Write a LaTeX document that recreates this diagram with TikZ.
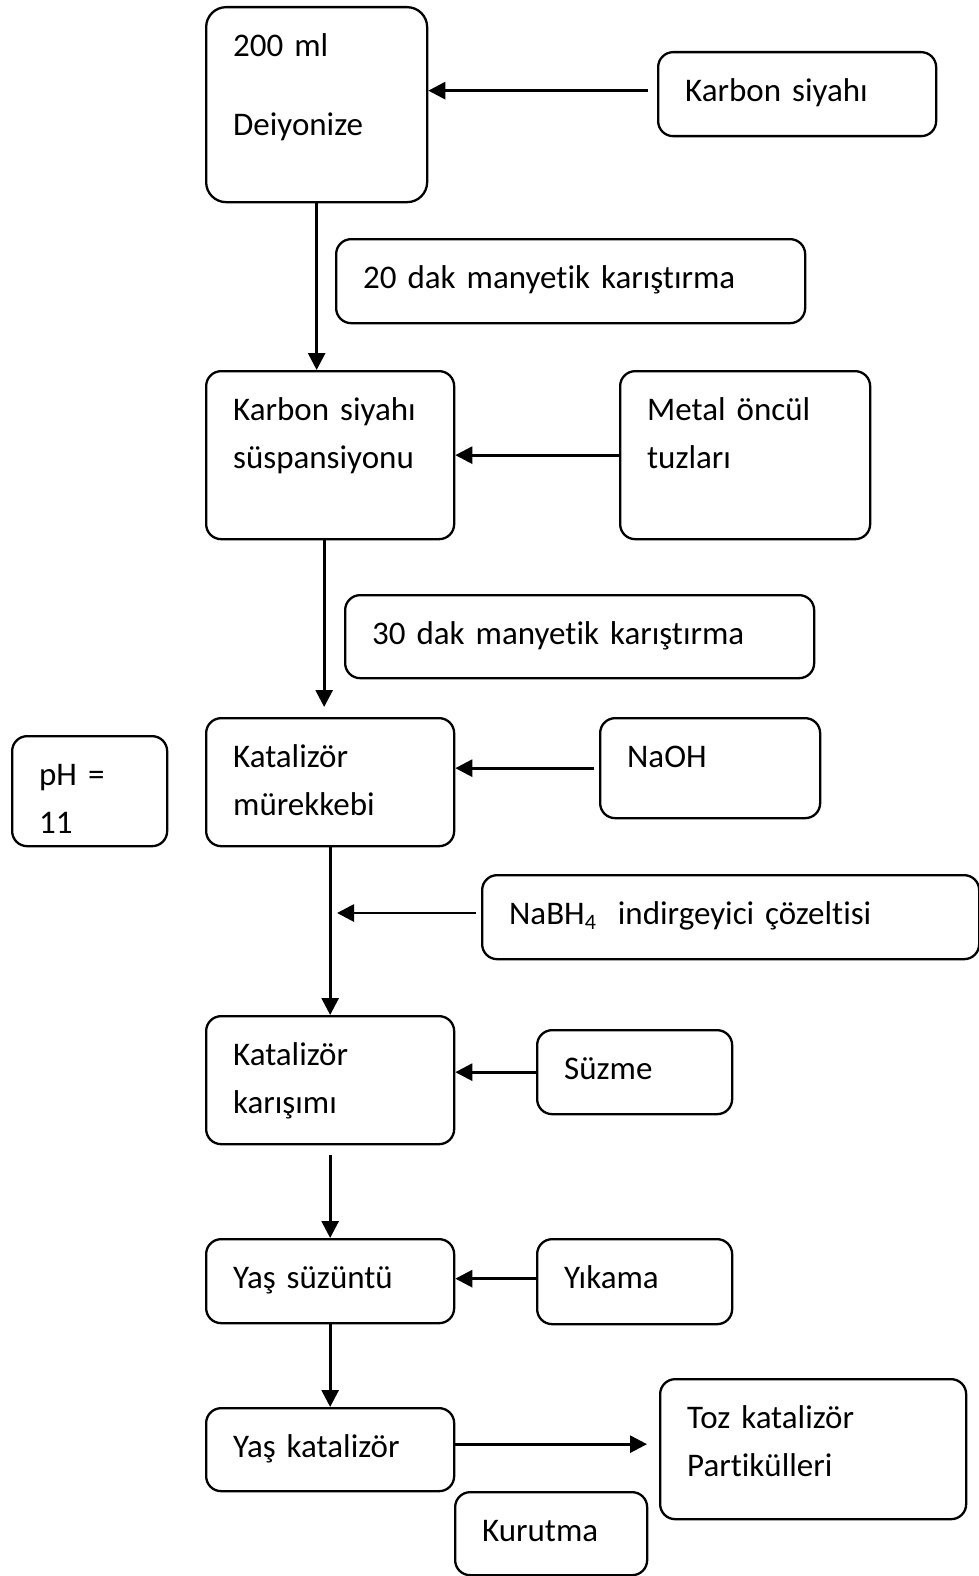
\documentclass[tikz,border=0pt]{standalone}
\usepackage{fontspec}
\setmainfont{Carlito}[Ligatures=NoCommon]
\usetikzlibrary{arrows.meta}
\tikzstyle{stepbox} = [
    rectangle,
    rounded corners=15pt,
    draw=black,
    line width=2.3pt,
    anchor=north west,
    align=left,
    inner xsep=27pt,
    inner ysep=0pt,
    text height=49pt,
    font=\fontsize{33}{48}\selectfont
]
\tikzstyle{arrow} = [line width=2.8pt,-{Triangle[length=17pt,width=17pt]}]
\begin{document}
\begin{tikzpicture}[x=1pt,y=-1pt]
\useasboundingbox (0,0) rectangle (979,1576);

\node (deion) [stepbox, rounded corners=20pt, text width=167pt, text depth=146pt] at (205,6)
{200 ml\\[31pt]Deiyonize};

\node (karbon) [stepbox, text width=224pt, text depth=35pt] at (657,51)
{Karbon siyahı};

\node (mix20) [stepbox, text width=415pt, text depth=35pt] at (335,238)
{20 dak manyetik karıştırma};

\node (susp) [stepbox, text width=194pt, text depth=119pt] at (205,370)
{Karbon siyahı\\süspansiyonu};

\node (metal) [stepbox, text width=196pt, text depth=119pt] at (619,370)
{Metal öncül\\tuzları};

\node (mix30) [stepbox, text width=415pt, text depth=34pt] at (344,594)
{30 dak manyetik karıştırma};

\node (murekkep) [stepbox, text width=194pt, text depth=79pt] at (205,717)
{Katalizör\\mürekkebi};

\node (ph) [stepbox, text width=101pt, text depth=61pt] at (11,735)
{pH =\\11};

\node (naoh) [stepbox, text width=166pt, text depth=51pt] at (599,717)
{NaOH};

\node (nabh) [stepbox, text width=443pt, text depth=35pt] at (481,874)
{NaBH\raisebox{-5pt}{\fontsize{22}{22}\selectfont 4}\ \ indirgeyici çözeltisi};

\node (karisim) [stepbox, text width=194pt, text depth=79pt] at (205,1015)
{Katalizör\\karışımı};

\node (suzme) [stepbox, text width=141pt, text depth=35pt] at (536,1029)
{Süzme};

\node (suzuntu) [stepbox, text width=194pt, text depth=35pt] at (205,1238)
{Yaş süzüntü};

\node (yikama) [stepbox, text width=141pt, text depth=36pt] at (536,1238)
{Yıkama};

\node (yaskat) [stepbox, text width=194pt, text depth=34pt] at (205,1407)
{Yaş katalizör};

\node (kurutma) [stepbox, text width=138pt, text depth=34pt] at (454,1491)
{Kurutma};

\node (toz) [stepbox, text width=252pt, text depth=91pt] at (659,1378)
{Toz katalizör\\Partikülleri};

\coordinate (nabhtip) at (337,913);

\draw [arrow, shorten <=9pt] ([yshift=3.5pt]karbon.west) -- ([yshift=3.5pt]karbon.west -| deion.east);
\draw [arrow] (deion.south) -- (deion.south |- susp.north);
\draw [arrow] (metal.west) -- (metal.west -| susp.east);
\draw [arrow, shorten >=10pt] ([xshift=-6pt]susp.south) -- ([xshift=-6pt]susp.south |- murekkep.north);
\draw [arrow, shorten <=5pt] (naoh.west) -- (naoh.west -| murekkep.east);
\draw [arrow] (murekkep.south) -- (karisim.north);
\draw [arrow, shorten <=5pt] (nabh.west |- nabhtip) -- (nabhtip);
\draw [arrow] (suzme.west) -- (suzme.west -| karisim.east);
\draw [arrow, shorten <=10pt] (karisim.south) -- (suzuntu.north);
\draw [arrow] ([yshift=3pt]yikama.west) -- ([yshift=3pt]yikama.west -| suzuntu.east);
\draw [arrow] (suzuntu.south) -- (yaskat.north);
\draw [arrow, shorten >=12pt] ([yshift=5.5pt]yaskat.east) -- ([yshift=5.5pt]yaskat.east -| toz.west);

\end{tikzpicture}
\end{document}
